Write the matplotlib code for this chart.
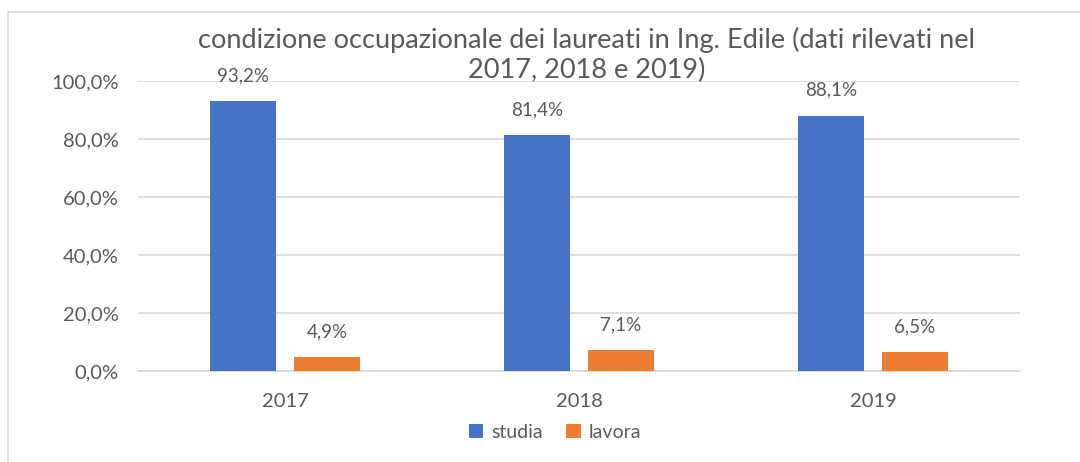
import matplotlib.pyplot as plt
from matplotlib.patches import Rectangle
import numpy as np

# data
years = ["2017", "2018", "2019"]
studia = [93.2, 81.4, 88.1]
lavora = [4.9, 7.1, 6.5]

blue = "#4472C4"
orange = "#ED7D31"
grey = "#595959"

plt.rcParams['font.family'] = ['Lato', 'DejaVu Sans']

fig = plt.figure(figsize=(10.8, 4.62), dpi=100)
# chart frame like the Excel chart area
fig.patches.append(Rectangle((8 / 1080, -0.1), 1.2, 1 - 12 / 462 + 0.1, transform=fig.transFigure,
                             fill=False, edgecolor="#D9D9D9", lw=1.2))

ax = fig.add_axes([138 / 1080, 1 - 371 / 462, 882 / 1080, 290 / 462])
x = np.arange(len(years))
off = 0.143
w = 0.225
b1 = ax.bar(x - off, studia, w, color=blue, label="studia", zorder=3)
b2 = ax.bar(x + off, lavora, w, color=orange, label="lavora", zorder=3)

for bars, vals in ((b1, studia), (b2, lavora)):
    for r, v in zip(bars, vals):
        ax.annotate(f"{v:.1f}%".replace(".", ","), (r.get_x() + r.get_width() / 2, v),
                    xytext=(0, 12), textcoords="offset points", ha="center", va="bottom",
                    fontsize=13.5, color=grey)

ax.set_xlim(-0.5, 2.5)
ax.set_ylim(0, 100)
ax.set_yticks(np.arange(0, 101, 20))
ax.set_yticklabels([f"{t:.1f}%".replace(".", ",") for t in np.arange(0, 101, 20)])
ax.set_xticks(x)
ax.set_xticklabels(years)
ax.tick_params(length=0, labelsize=14.5, labelcolor=grey)
ax.tick_params(axis="y", pad=14)
ax.tick_params(axis="x", pad=16)
ax.grid(axis="y", color="#D9D9D9", lw=1.2, zorder=0)
for s in ("top", "right", "left"):
    ax.spines[s].set_visible(False)
ax.spines["bottom"].set_color("#D9D9D9")
ax.spines["bottom"].set_linewidth(1.2)

fig.text(587 / 1080, 1 - 55 / 462,
         "condizione occupazionale dei laureati in Ing. Edile (dati rilevati nel\n2017, 2018 e 2019)",
         ha="center", va="center", fontsize=19.5, color=grey, linespacing=1.2)

fig.legend(handles=[b1, b2], loc="center", bbox_to_anchor=(555 / 1080, 1 - 432 / 462), ncol=2,
           frameon=False, fontsize=14, labelcolor=grey, handlelength=0.75, handleheight=0.75,
           handletextpad=0.4, columnspacing=1.2)

fig.savefig("out.png", dpi=100)
